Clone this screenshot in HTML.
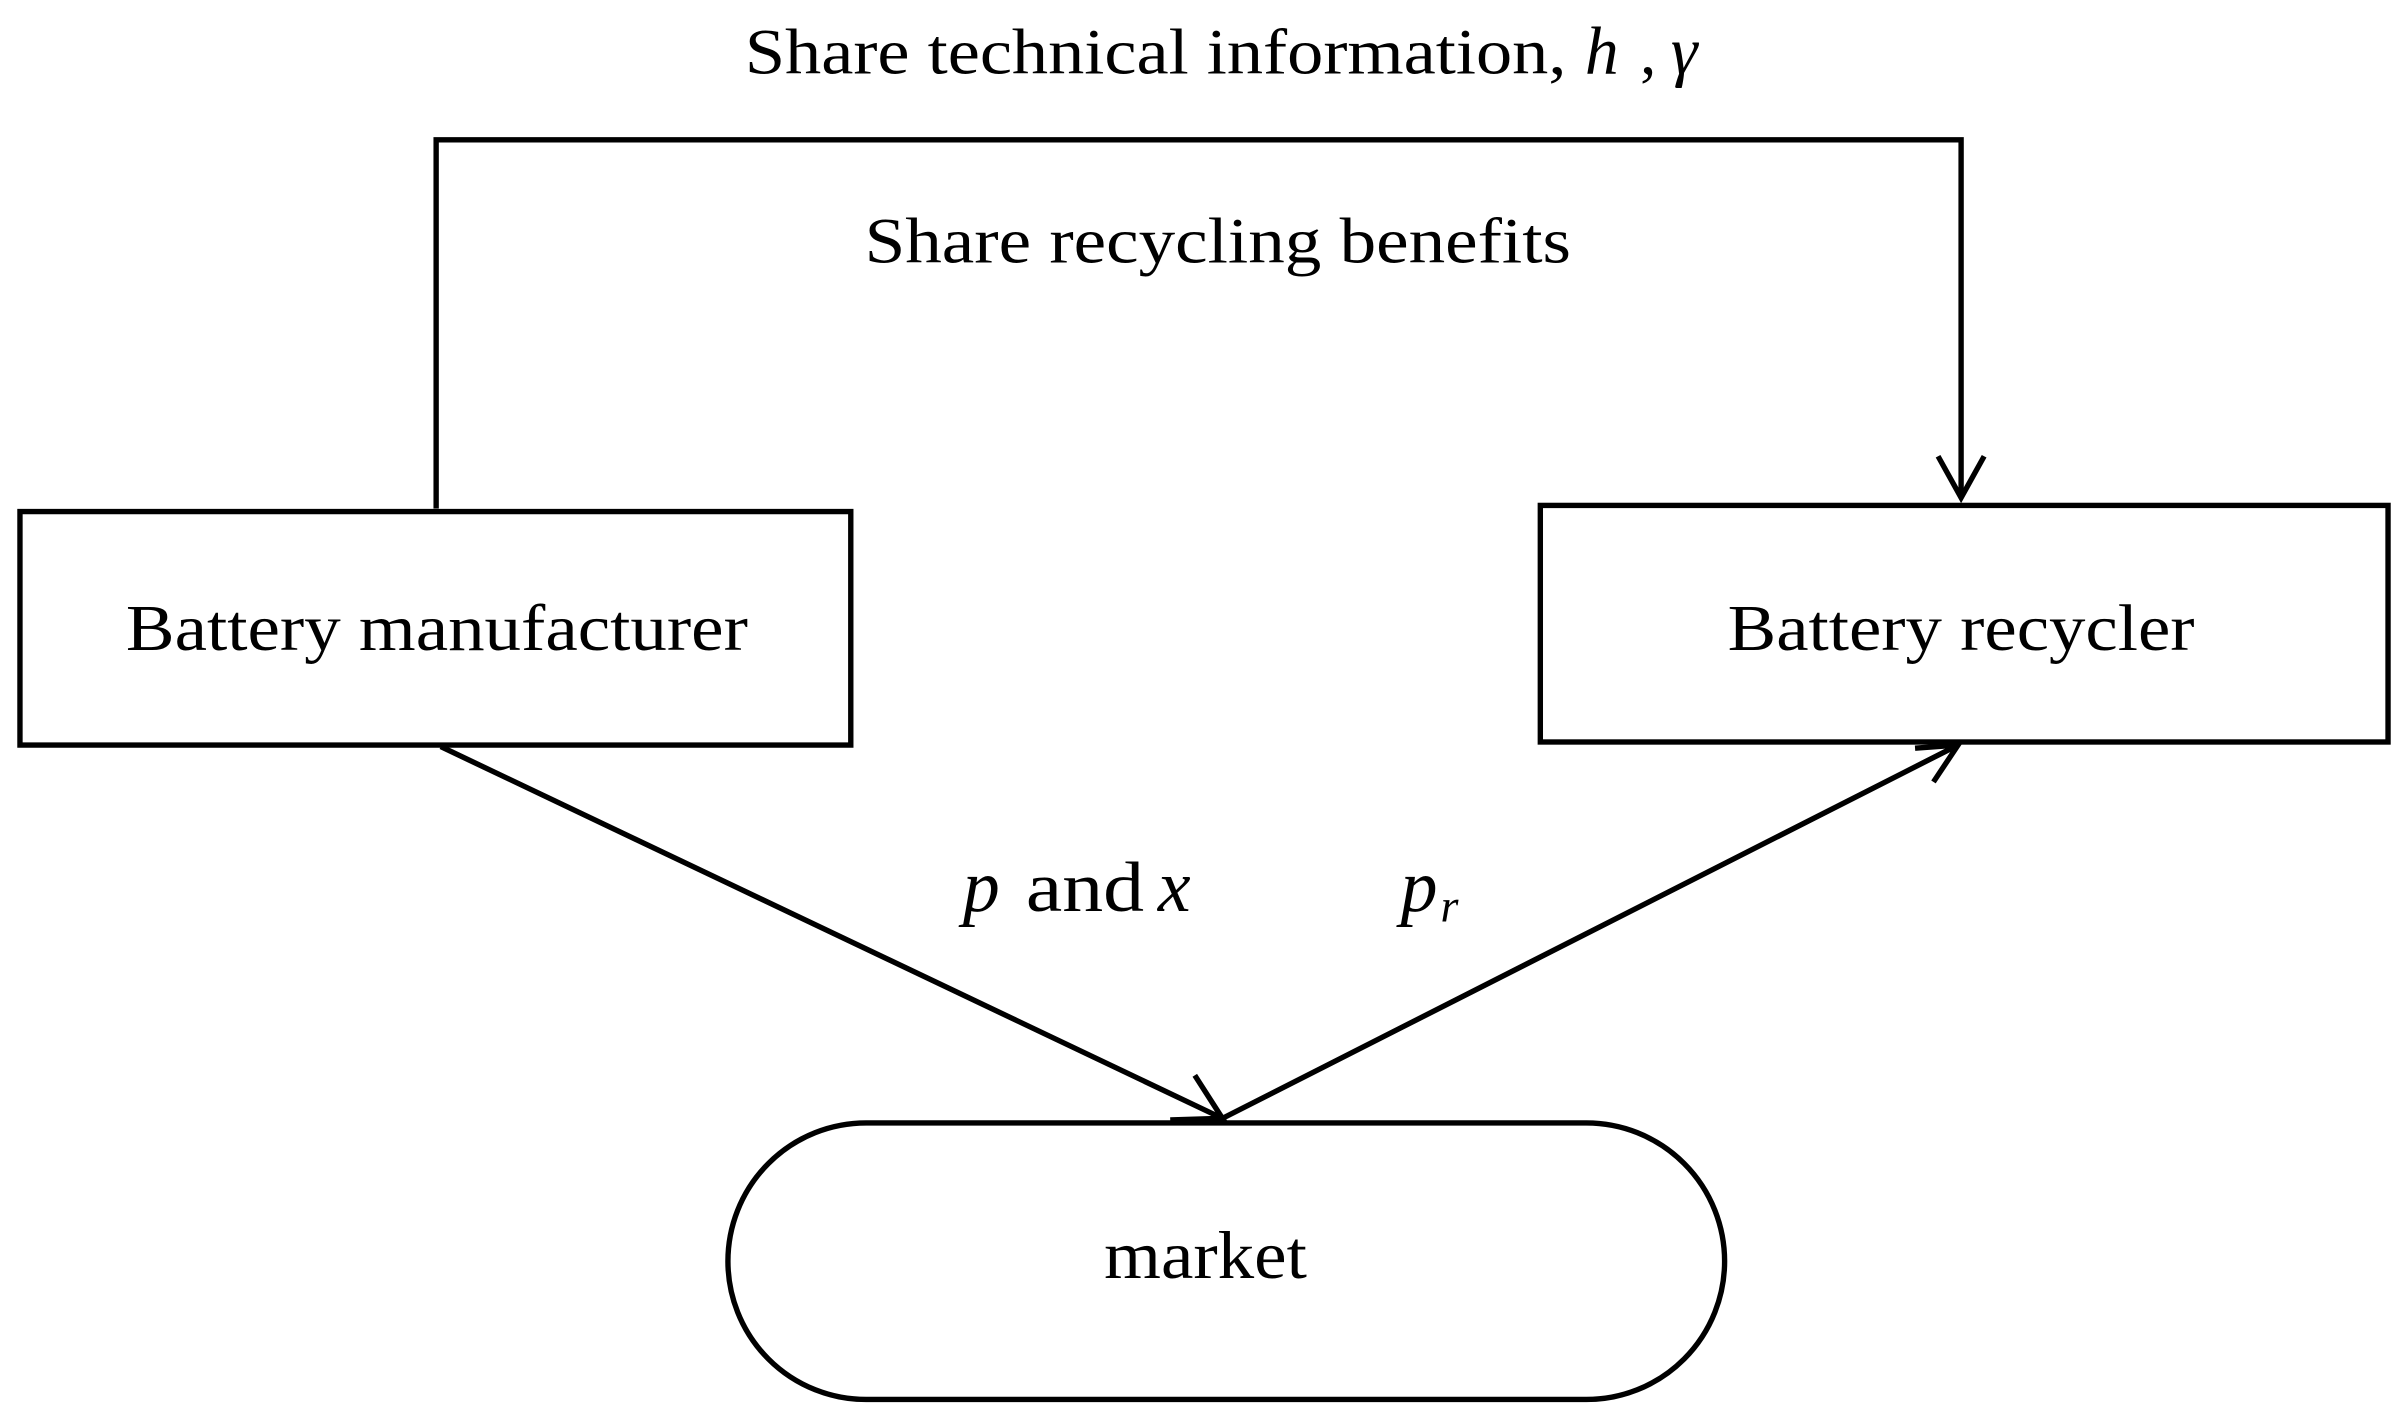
<!DOCTYPE html>
<html><head><meta charset="utf-8"><style>
html,body{margin:0;padding:0;background:#fff}
svg{display:block}
text{font-family:"Liberation Serif",serif;fill:#000}
</style></head><body>
<svg width="2408" height="1421" viewBox="0 0 1568 925" preserveAspectRatio="none" xmlns="http://www.w3.org/2000/svg">
<g fill="none" stroke="#000" stroke-width="3.5">
<polyline points="284,331 284,91 1277,91 1277,324"/>
<polyline points="1262,297 1277,324 1292,297"/>
<rect x="13" y="333" width="541" height="152"/>
<rect x="1003" y="329" width="552" height="154"/>
<line x1="287" y1="486" x2="796" y2="728"/>
<polyline points="778,700 796,728 762,729"/>
<line x1="796" y1="728" x2="1275" y2="485"/>
<polyline points="1247,487 1275,485 1259,509"/>
<rect x="474" y="731" width="649" height="180" rx="90" ry="90"/>
</g>
<text x="485" y="48" font-size="42" textLength="535" lengthAdjust="spacingAndGlyphs">Share technical information,</text>
<text x="1032" y="48" font-size="44" font-style="italic">h</text>
<text x="1068" y="48" font-size="42">,</text>
<text x="1088" y="48" font-size="44" font-style="italic">γ</text>
<text x="563" y="171" font-size="42" textLength="460" lengthAdjust="spacingAndGlyphs">Share recycling benefits</text>
<text x="82" y="423" font-size="43" textLength="405" lengthAdjust="spacingAndGlyphs">Battery manufacturer</text>
<text x="1125" y="423" font-size="43" textLength="304" lengthAdjust="spacingAndGlyphs">Battery recycler</text>
<text x="627" y="593" font-size="48" font-style="italic">p</text>
<text x="668" y="593" font-size="46" textLength="77" lengthAdjust="spacingAndGlyphs">and</text>
<text x="754" y="593" font-size="48" font-style="italic">x</text>
<text x="912" y="593" font-size="48" font-style="italic">p</text>
<text x="938" y="600" font-size="30" font-style="italic">r</text>
<text x="719" y="832" font-size="44" textLength="132" lengthAdjust="spacingAndGlyphs">market</text>
</svg>
</body></html>
